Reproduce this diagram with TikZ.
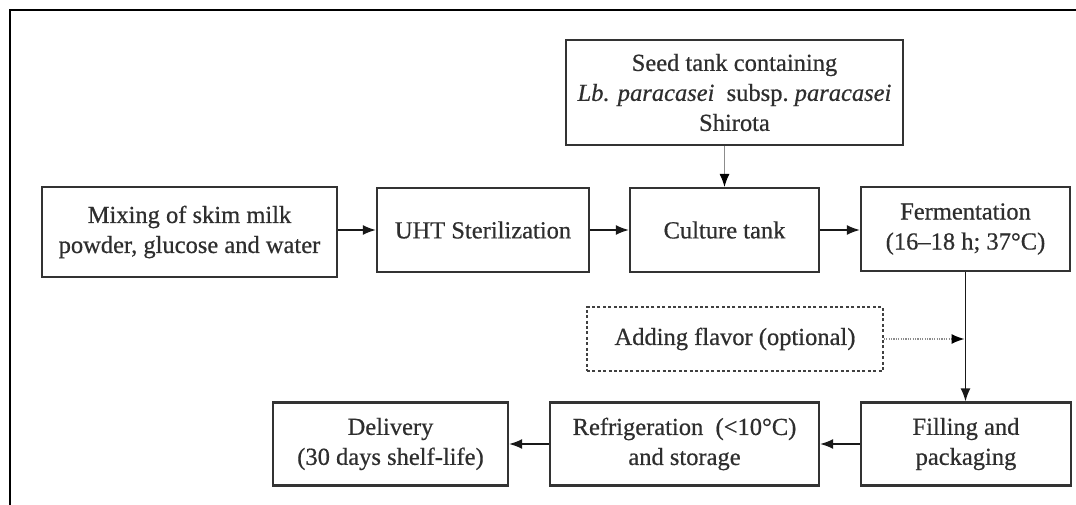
\documentclass[tikz,border=0pt]{standalone}
\usepackage{fontspec}
\setmainfont{Liberation Serif}
\newfontfamily\labelfont{Liberation Serif}[FakeBold=0.6]
\usetikzlibrary{arrows.meta}
\begin{document}
\begin{tikzpicture}[x=1pt,y=-1pt,
  stepbox/.style={draw=black!80,line width=2.2pt,align=center,inner sep=0pt,
    font=\labelfont\fontsize{24.5}{30}\selectfont,text=black!82},
  optbox/.style={stepbox,draw=black!75,line width=1.6pt,dash pattern=on 3pt off 2.4pt},
  flow/.style={line width=1.6pt,draw=black!90,-{Latex[length=13pt,width=10pt]}},
  thinflow/.style={line width=1pt,draw=black!45,-{Latex[length=13pt,width=10pt,fill=black,color=black]}},
  dotflow/.style={line width=1.4pt,draw=black!45,dash pattern=on 1.2pt off 1.2pt,
    -{Latex[length=13pt,width=10pt,fill=black,color=black]}}]
\useasboundingbox (0,0) rectangle (1076,505);
% open frame: top and left rules
\draw[line width=2pt,black] (1076,10) -- (10,10) -- (10,505);

% process steps
\node[stepbox,minimum width=337pt,minimum height=105pt] (seed) at (734.5,92.5)
  {Seed tank containing\\\textit{Lb. paracasei}\ \ subsp.\ \textit{paracasei}\\Shirota};
\node[stepbox,minimum width=295pt,minimum height=90pt] (mix) at (189.5,232)
  {Mixing of skim milk\\powder, glucose and water};
\node[stepbox,minimum width=212pt,minimum height=84pt] (uht) at (483,230)
  {UHT Sterilization};
\node[stepbox,minimum width=189pt,minimum height=84pt] (cult) at (724.5,230)
  {Culture tank};
\node[stepbox,minimum width=209pt,minimum height=84pt] (ferm) at (965.5,229)
  {Fermentation\\(16–18 h; 37°C)};
\node[optbox,minimum width=296pt,minimum height=64pt] (flav) at (735,339)
  {Adding flavor (optional)};
\node[stepbox,minimum width=210pt,minimum height=83pt] (fill) at (966,444)
  {Filling and\\packaging};
\node[stepbox,minimum width=269pt,minimum height=83pt] (refr) at (684.5,444)
  {Refrigeration\ \ (<10°C)\\and storage};
\node[stepbox,minimum width=235pt,minimum height=83pt] (deliv) at (390.5,444)
  {Delivery\\(30 days shelf-life)};

% connectors
\draw[thinflow] (cult.north |- seed.south) -- (cult.north);
\draw[flow] (mix.east |- uht.west) -- (uht.west);
\draw[flow] (uht.east) -- (cult.west);
\draw[flow] (cult.east) -- (ferm.west |- cult.east);
\draw[flow] (ferm.south) -- (fill.north -| ferm.south);
\coordinate (join) at ([xshift=-1pt]ferm.south |- flav.east);
\draw[dotflow] (flav.east) -- (join);
\draw[flow] (fill.west) -- (refr.east);
\draw[flow] (refr.west) -- (deliv.east);
\end{tikzpicture}
\end{document}
